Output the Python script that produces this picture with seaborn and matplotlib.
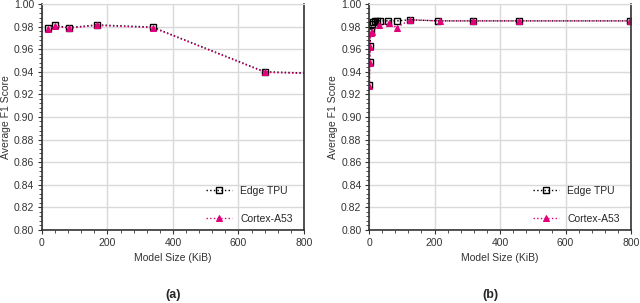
"""Average F1 score vs model size for Edge TPU and Cortex-A53"""

import pandas as pd
import numpy as np
import matplotlib
matplotlib.use('Agg')
import matplotlib.pyplot as plt
import seaborn as sns
from matplotlib.ticker import MultipleLocator

# Panel (a) data
a_size = [17, 39, 82, 167, 338, 680, 1360]
a_tpu = [0.9785, 0.9810, 0.9790, 0.9815, 0.9795, 0.9400, 0.9340]
a_cortex = [0.9780, 0.9805, 0.9785, 0.9810, 0.9790, 0.9395, 0.9335]

# Panel (b) data
b_tpu_size = [1, 2, 3, 5, 8, 12, 18, 25, 35, 58, 85, 124, 210, 318, 458, 796]
b_tpu = [0.928, 0.949, 0.963, 0.976, 0.982, 0.984, 0.985, 0.985, 0.985,
         0.985, 0.985, 0.986, 0.985, 0.985, 0.985, 0.985]
b_cortex_size = [1, 2, 3, 5, 10, 30, 60, 85, 124, 216, 318, 458, 796]
b_cortex = [0.927, 0.948, 0.962, 0.974, 0.9755, 0.981, 0.983, 0.979,
            0.986, 0.985, 0.985, 0.985, 0.985]

MAGENTA = '#e0007a'

sns.set_style('white')
plt.rcParams['font.family'] = ['Liberation Sans', 'DejaVu Sans']

fig = plt.figure(figsize=(6.4, 3.03), dpi=100)
ax_a = fig.add_axes([0.0656, 0.241, 0.4094, 0.746])
ax_b = fig.add_axes([0.5766, 0.241, 0.4094, 0.746])


def draw_panel(ax, tpu_x, tpu_y, cx, cy):
    df_t = pd.DataFrame({'size': tpu_x, 'f1': tpu_y})
    df_c = pd.DataFrame({'size': cx, 'f1': cy})
    sns.lineplot(data=df_t, x='size', y='f1', ax=ax, sort=False,
                 color='black', linestyle=':', linewidth=1.0,
                 marker='s', markersize=4, markerfacecolor='none',
                 markeredgecolor='black', markeredgewidth=1.0,
                 label='Edge TPU')
    sns.lineplot(data=df_c, x='size', y='f1', ax=ax, sort=False,
                 color=MAGENTA, linestyle=':', linewidth=1.0,
                 marker='^', markersize=4.5, markerfacecolor=MAGENTA,
                 markeredgecolor=MAGENTA, label='Cortex-A53')
    ax.set_xlim(0, 800)
    ax.set_ylim(0.80, 1.00)
    ax.xaxis.set_major_locator(MultipleLocator(200))
    ax.xaxis.set_minor_locator(MultipleLocator(40))
    ax.yaxis.set_major_locator(MultipleLocator(0.02))
    ax.yaxis.set_minor_locator(MultipleLocator(0.004))
    ax.set_yticks(np.arange(0.80, 1.001, 0.02))
    ax.set_yticklabels([f'{v:.2f}' for v in np.arange(0.80, 1.001, 0.02)])
    ax.grid(True, which='major', color='#d9d9d9', linewidth=1.0)
    ax.set_axisbelow(True)
    ax.tick_params(axis='both', which='major', labelsize=7.5, length=3,
                   width=0.8, direction='out', colors='#333333',
                   left=True, bottom=True, pad=2.5)
    ax.tick_params(axis='both', which='minor', length=2, width=0.6,
                   direction='out', colors='#333333', left=True, bottom=True)
    ax.set_xlabel('Model Size (KiB)', fontsize=7.5, color='#333333')
    ax.set_ylabel('Average F1 Score', fontsize=7.5, color='#333333',
                  labelpad=2)
    for side in ['left', 'bottom', 'right']:
        ax.spines[side].set_color('#333333')
        ax.spines[side].set_linewidth(1.2)
    ax.spines['top'].set_color('#d9d9d9')
    ax.legend(loc='lower right', frameon=False, fontsize=7.5,
              labelspacing=1.75, handlelength=2.5, borderaxespad=0.3,
              bbox_to_anchor=(0.985, -0.005))


draw_panel(ax_a, a_size, a_tpu, a_size, a_cortex)
draw_panel(ax_b, b_tpu_size, b_tpu, b_cortex_size, b_cortex)

fig.text(0.270, 0.026, '(a)', ha='center', va='center', fontsize=9,
         fontweight='bold')
fig.text(0.766, 0.026, '(b)', ha='center', va='center', fontsize=9,
         fontweight='bold')

fig.savefig('out.png', dpi=100)
